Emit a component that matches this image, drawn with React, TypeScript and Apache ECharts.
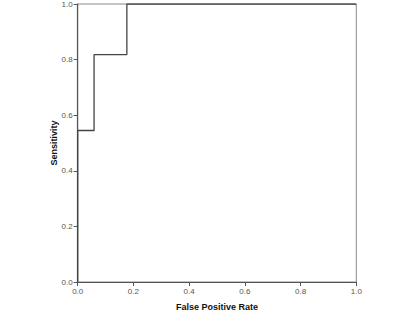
import React, { useEffect, useRef } from "react";
import * as echarts from "echarts";

const fpr = [0, 0, 0.0588, 0.0588, 0.1765, 0.1765, 1];
const sensitivity = [0, 0.545, 0.545, 0.818, 0.818, 1, 1];
const xTitle = "False Positive Rate";
const yTitle = "Sensitivity";

export default function App() {
  const ref = useRef<HTMLDivElement>(null);
  useEffect(() => {
    const chart = echarts.init(ref.current!, null, { renderer: "svg" });
    const axisCommon = {
      type: "value" as const,
      min: 0,
      max: 1,
      interval: 0.2,
      nameLocation: "middle" as const,
      nameMoveOverlap: false,
      nameTextStyle: { fontFamily: "Liberation Sans", fontWeight: "bold" as const, fontSize: 9, color: "#111" },
      axisLine: { show: true, lineStyle: { color: "#555", width: 1.2 } },
      axisTick: { show: true, length: 4, lineStyle: { color: "#555" } },
      axisLabel: {
        fontFamily: "Liberation Sans",
        fontSize: 8,
        color: "#555",
        margin: 5,
        formatter: (v: number) => v.toFixed(1),
      },
      splitLine: { show: false },
    };
    chart.setOption({
      animation: false,
      grid: {
        left: 77.7,
        top: 3.5,
        width: 278.6,
        height: 278.5,
        show: true,
        borderColor: "#888",
        borderWidth: 1,
      },
      xAxis: { ...axisCommon, name: xTitle, nameGap: 20 },
      yAxis: { ...axisCommon, name: yTitle, nameGap: 19 },
      series: [
        {
          type: "line",
          data: fpr.map((x, i) => [x, sensitivity[i]]),
          showSymbol: false,
          lineStyle: { color: "#444", width: 1.3 },
        },
      ],
    });
    return () => chart.dispose();
  }, []);
  return (
    <div
      ref={ref}
      style={{ position: "fixed", left: 0, top: 0, width: 400, height: 320, background: "#fff" }}
    />
  );
}
